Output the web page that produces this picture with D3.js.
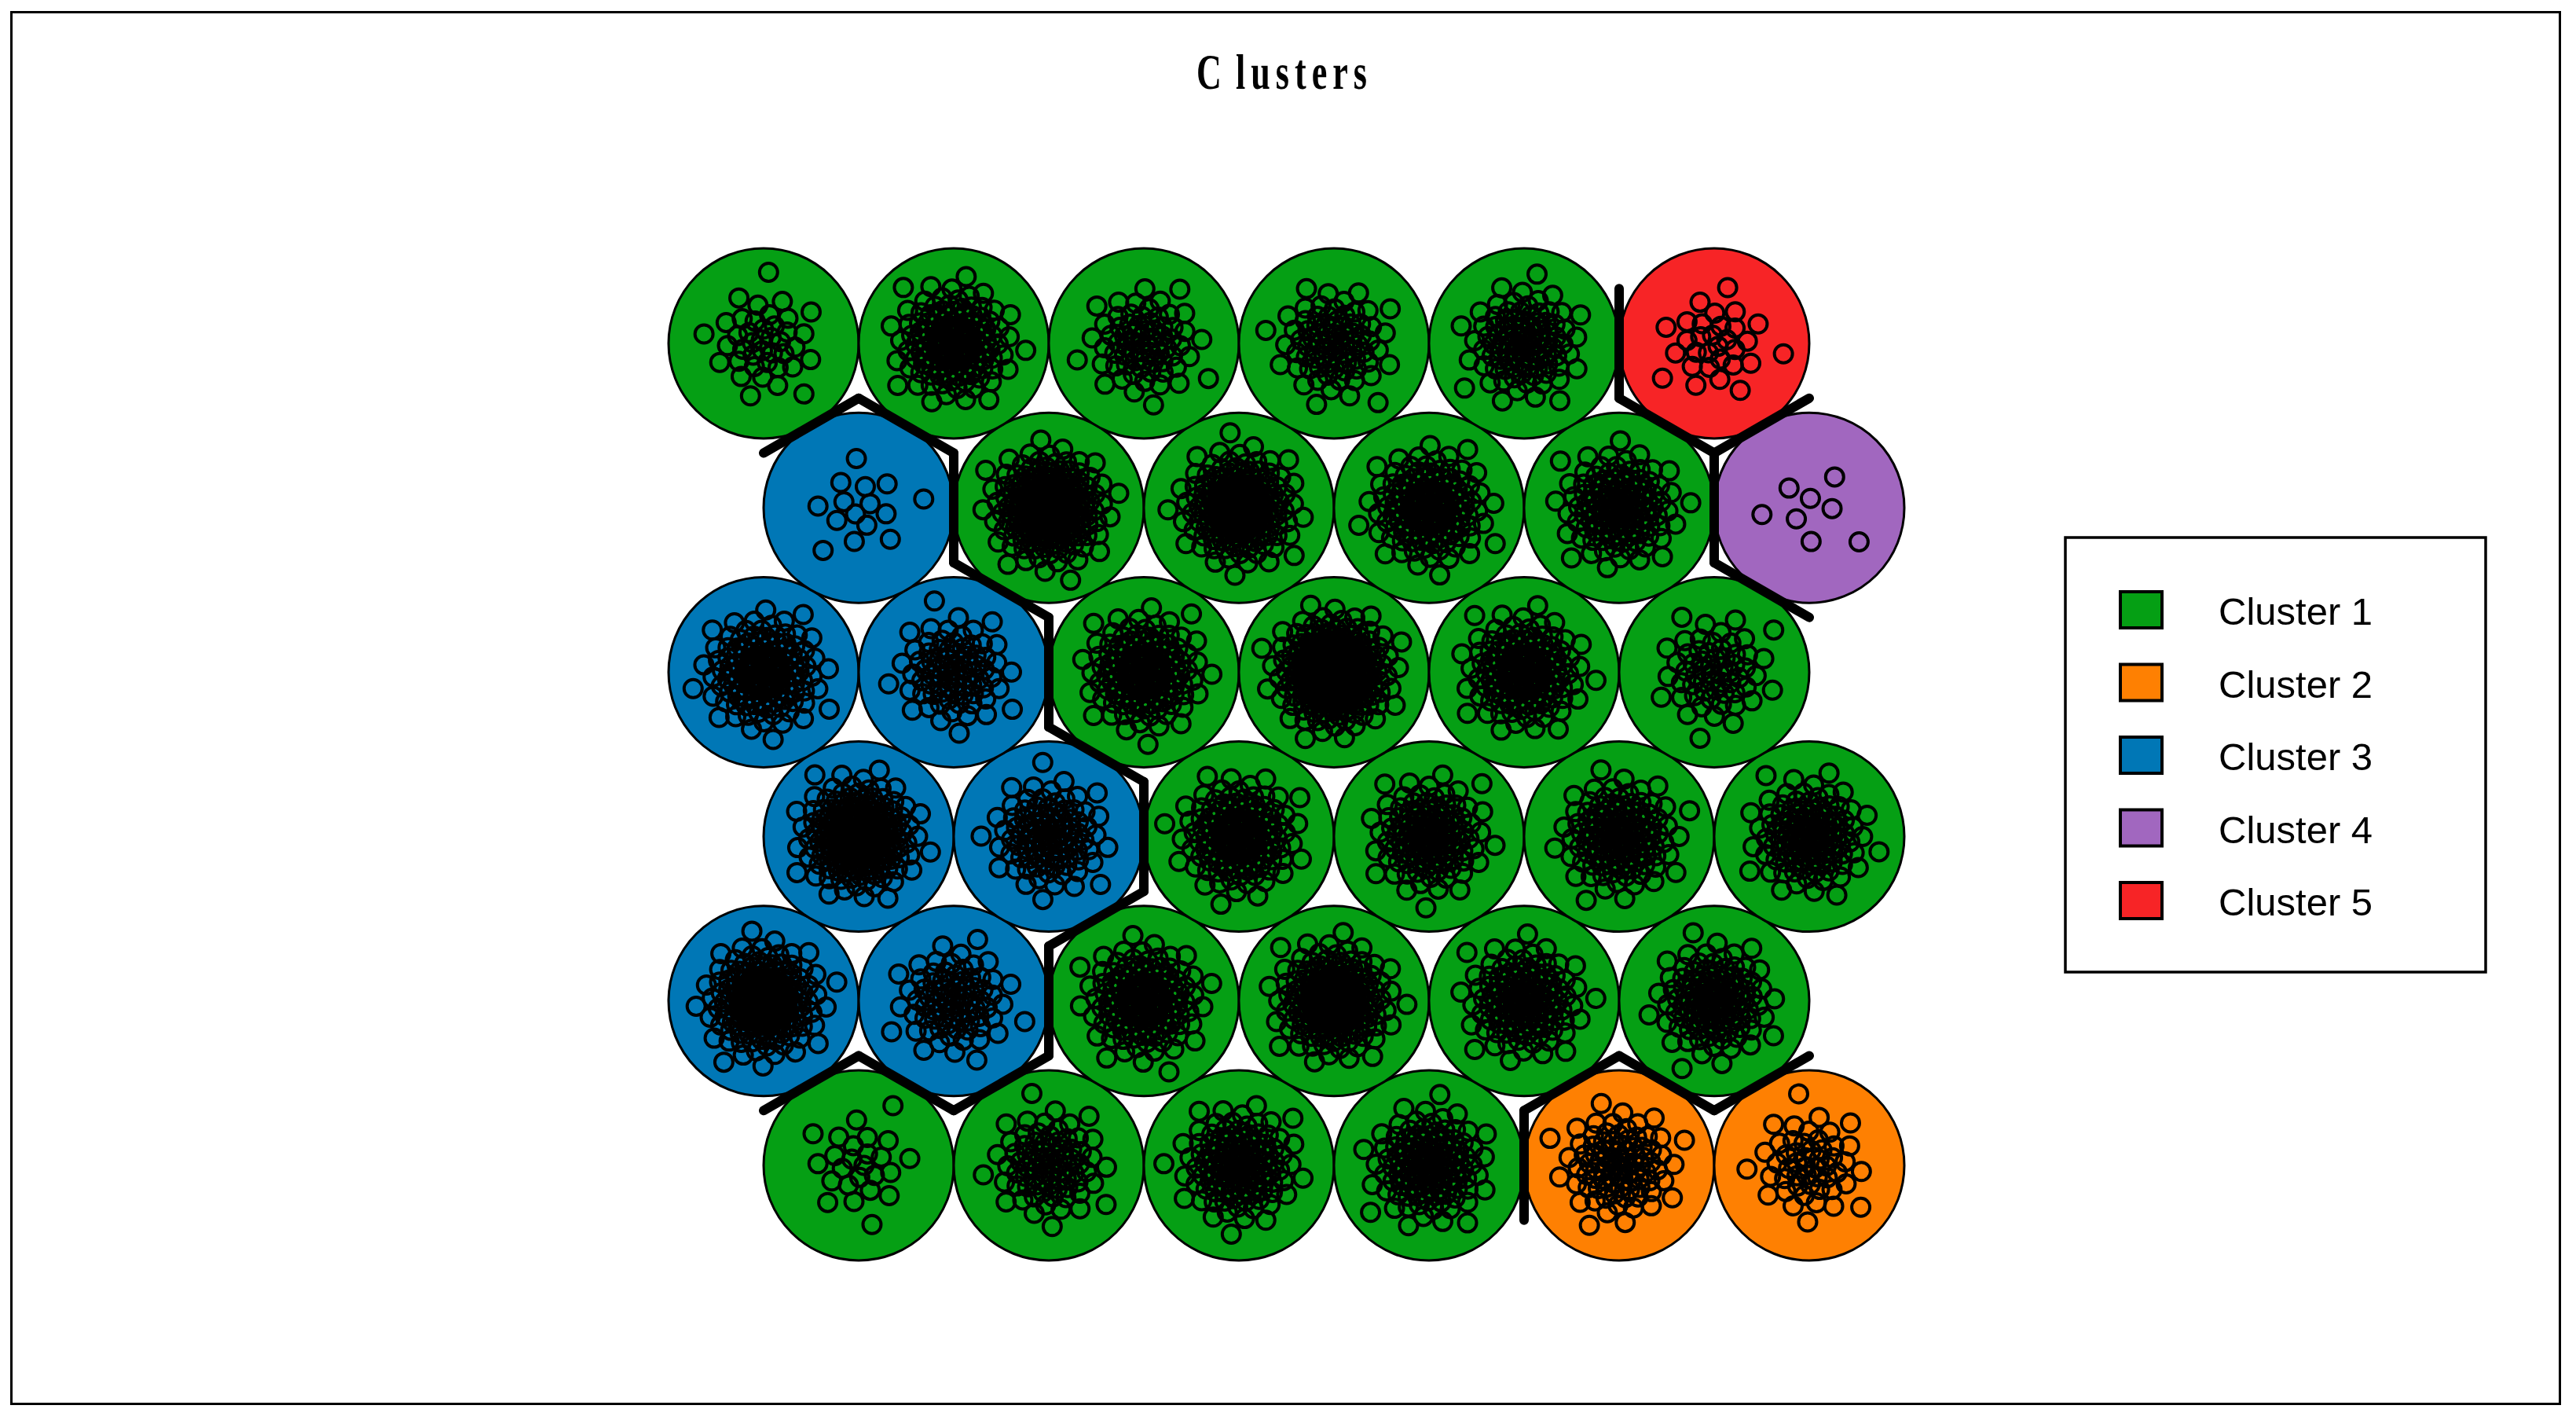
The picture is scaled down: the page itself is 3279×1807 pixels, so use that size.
<!DOCTYPE html>
<html>
<head>
<meta charset="utf-8">
<script src="https://cdnjs.cloudflare.com/ajax/libs/d3/7.8.5/d3.min.js"></script>
<style>
  body { margin: 0; background: #fff; }
  svg { display: block; }
</style>
</head>
<body>
<div id="chart"></div>
<script>
////////////////////////////////////////////////////////////
//////////////////////// Data //////////////////////////////
////////////////////////////////////////////////////////////
// 6 x 6 hexagonal SOM, units listed from bottom row, left to right
var xdim = 6, ydim = 6;

// cluster of each unit
var unitCluster = [
  1, 1, 1, 1, 2, 2,
  3, 3, 1, 1, 1, 1,
  3, 3, 1, 1, 1, 1,
  3, 3, 1, 1, 1, 1,
  3, 1, 1, 1, 1, 4,
  1, 1, 1, 1, 1, 5
];

// number of samples mapped to each unit
var unitCounts = [
   25,  80, 130, 130,  90,  50,
  180,  80, 150, 180, 130, 120,
  200, 100, 150, 120, 130, 120,
  150,  80, 150, 250, 150,  60,
   15, 200, 180, 150, 130,   8,
   40, 150,  70,  80, 100,  30
];

var clusterNames = ['Cluster 1', 'Cluster 2', 'Cluster 3', 'Cluster 4', 'Cluster 5'];
var clusterColors = ['#059F14', '#FE8002', '#0077B6', '#A167BF', '#F72426'];
var chartTitle = 'Clusters';

////////////////////////////////////////////////////////////
//////////////////////// Set-Up ////////////////////////////
////////////////////////////////////////////////////////////
var width = 3279, height = 1807;
var h3 = Math.sqrt(3) / 2;

// grid positions of the units (odd rows shifted half a unit)
var units = unitCluster.map(function(c, k) {
  var row = Math.floor(k / xdim) + 1,
      col = (k % xdim) + 1;
  return {
    id: k,
    gx: col + (row % 2 === 1 ? 0.5 : 0),
    gy: row * h3,
    cluster: c,
    n: unitCounts[k]
  };
});

var x = d3.scaleLinear().domain([1, 6.5]).range([972, 2303]);
var y = d3.scaleLinear().domain([h3, ydim * h3]).range([1483, 437]);
var unitPx = x(2) - x(1);

var svg = d3.select('#chart').append('svg')
  .attr('width', width)
  .attr('height', height);

svg.append('rect')
  .attr('width', width)
  .attr('height', height)
  .style('fill', '#fff');

// outer frame
svg.append('rect')
  .attr('x', 14.5)
  .attr('y', 15.5)
  .attr('width', 3244)
  .attr('height', 1771)
  .style('fill', 'none')
  .style('stroke', '#000')
  .style('stroke-width', 3);

// title (narrow, spaced out serif like the original device font)
var title = svg.append('text')
  .attr('transform', 'translate(1523,113) scale(0.7,1)')
  .attr('text-anchor', 'start')
  .style('font-family', '"Liberation Serif", "DejaVu Serif", serif')
  .style('font-weight', 'bold')
  .style('font-size', '63px')
  .style('letter-spacing', '10px');
title.append('tspan').text(chartTitle.slice(0, 1));
title.append('tspan').attr('dx', 16).text(chartTitle.slice(1));

////////////////////////////////////////////////////////////
//////////////////////// Units /////////////////////////////
////////////////////////////////////////////////////////////
var gUnits = svg.append('g').classed('units', true);

gUnits.selectAll('.unit')
  .data(units)
  .enter().append('circle')
  .attr('class', 'unit')
  .attr('cx', function(d) { return x(d.gx); })
  .attr('cy', function(d) { return y(d.gy); })
  .attr('r', unitPx / 2)
  .style('fill', function(d) { return clusterColors[d.cluster - 1]; })
  .style('stroke', '#000')
  .style('stroke-width', 3);

// mapped samples: spread round the unit centre (sunflower layout,
// radius follows the quantiles of a 2d normal so the core gets dense)
var golden = Math.PI * (3 - Math.sqrt(5));
var sd = 0.14;
var pts = [];
units.forEach(function(u) {
  for (var i = 0; i < u.n; i++) {
    var q = (i + 0.5) / u.n * 0.985;
    var r = sd * Math.sqrt(-2 * Math.log(1 - q));
    var a = i * golden + u.id * 0.7;
    pts.push({ gx: u.gx + r * Math.cos(a), gy: u.gy + r * Math.sin(a) });
  }
});

svg.append('g').classed('samples', true)
  .selectAll('circle')
  .data(pts)
  .enter().append('circle')
  .attr('cx', function(d) { return x(d.gx); })
  .attr('cy', function(d) { return y(d.gy); })
  .attr('r', 11.5)
  .style('fill', 'none')
  .style('stroke', '#000')
  .style('stroke-width', 4);

////////////////////////////////////////////////////////////
//////////////////// Cluster boundaries ////////////////////
////////////////////////////////////////////////////////////
var half = 0.5 / Math.sqrt(3);
var edges = [];
for (var i = 0; i < units.length; i++) {
  for (var j = i + 1; j < units.length; j++) {
    var a = units[i], b = units[j];
    var dx = b.gx - a.gx, dy = b.gy - a.gy;
    var dist = Math.sqrt(dx * dx + dy * dy);
    if (dist < 1.01 && a.cluster !== b.cluster) {
      var mx = (a.gx + b.gx) / 2, my = (a.gy + b.gy) / 2;
      var px = -dy / dist, py = dx / dist;
      edges.push({ x1: mx + px * half, y1: my + py * half,
                   x2: mx - px * half, y2: my - py * half });
    }
  }
}

svg.append('g').classed('boundaries', true)
  .selectAll('line')
  .data(edges)
  .enter().append('line')
  .attr('x1', function(d) { return x(d.x1); })
  .attr('y1', function(d) { return y(d.y1); })
  .attr('x2', function(d) { return x(d.x2); })
  .attr('y2', function(d) { return y(d.y2); })
  .style('stroke', '#000')
  .style('stroke-width', 12)
  .style('stroke-linecap', 'round');

////////////////////////////////////////////////////////////
//////////////////////// Legend ////////////////////////////
////////////////////////////////////////////////////////////
var legend = svg.append('g').classed('legend', true);
var ly = d3.scalePoint().domain(clusterNames).range([776, 1146]);

legend.append('rect')
  .attr('x', 2629)
  .attr('y', 684)
  .attr('width', 535)
  .attr('height', 553)
  .style('fill', '#fff')
  .style('stroke', '#000')
  .style('stroke-width', 3.5);

var items = legend.selectAll('.item')
  .data(clusterNames)
  .enter().append('g')
  .attr('class', 'item')
  .attr('transform', function(d) { return 'translate(0,' + ly(d) + ')'; });

items.append('rect')
  .attr('x', 2699)
  .attr('y', -23)
  .attr('width', 53)
  .attr('height', 46)
  .style('fill', function(d, i) { return clusterColors[i]; })
  .style('stroke', '#000')
  .style('stroke-width', 4);

items.append('text')
  .attr('x', 2824)
  .attr('y', 19)
  .style('font-family', '"Liberation Sans", Arial, sans-serif')
  .style('font-size', '49px')
  .text(function(d) { return d; });
</script>
</body>
</html>
